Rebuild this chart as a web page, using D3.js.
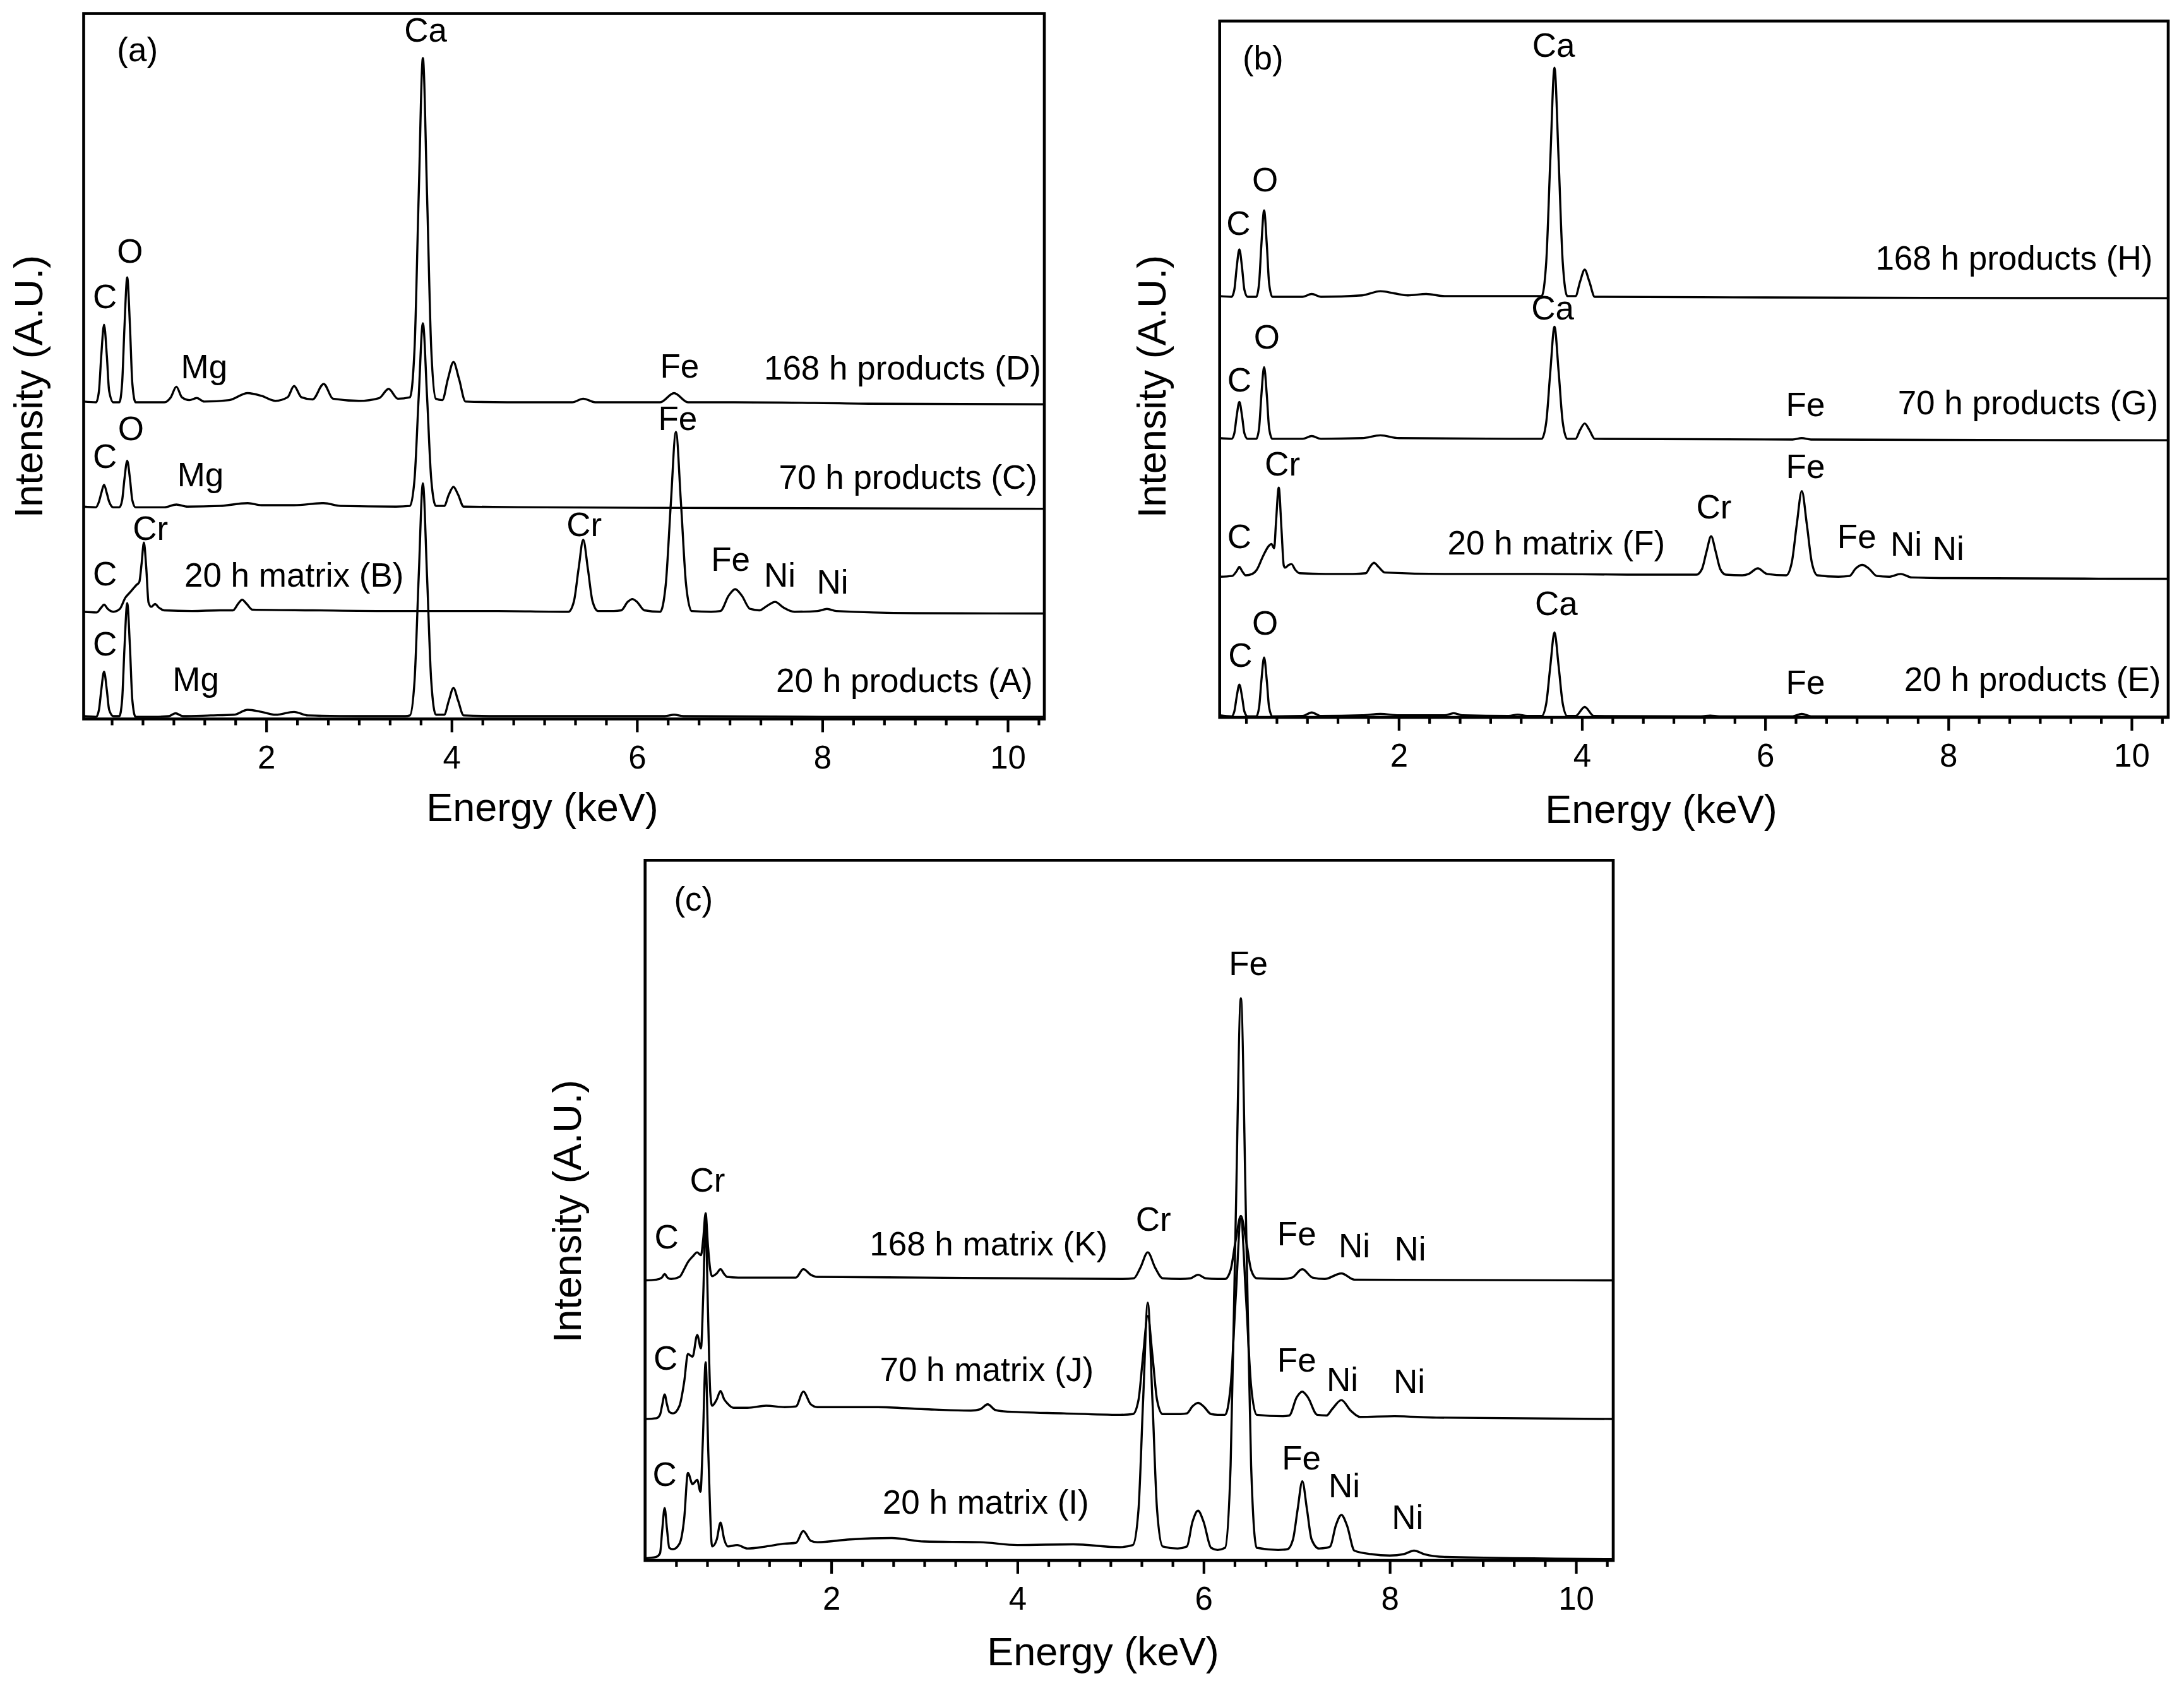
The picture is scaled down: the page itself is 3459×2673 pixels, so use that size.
<!DOCTYPE html>
<html><head><meta charset="utf-8">
<script src="https://cdn.jsdelivr.net/npm/d3@7/dist/d3.min.js"></script>
<style>html,body{margin:0;padding:0;background:#fff;}svg{display:block;}</style>
</head><body>
<script>
// ---------------- DATA (energy keV, intensity in A.U., stacked as drawn) ----------------
const majorTicks = [2, 4, 6, 8, 10];
const majorTickLabels = ["2", "4", "6", "8", "10"];

// Panel (a)
const specA_20hProducts = [[0.03,0.4],[0.165,0.3],[0.195,1.3],[0.22,4.1],[0.25,6.7],[0.28,4.1],[0.305,1.3],[0.35,0.4],[0.415,0.4],[0.445,2.7],[0.47,10.0],[0.50,16.4],[0.53,10.0],[0.555,2.7],[0.59,0.3],[0.8,0.3],[0.95,0.4],[1.02,0.8],[1.1,0.4],[1.4,0.5],[1.65,0.6],[1.8,1.3],[1.95,1.0],[2.1,0.6],[2.3,1.0],[2.45,0.5],[3.0,0.4],[3.5,0.4],[3.55,0.5],[3.60,5.4],[3.645,20.2],[3.69,33.4],[3.735,20.2],[3.78,5.4],[3.83,0.6],[3.92,0.6],[3.97,2.6],[4.02,4.4],[4.07,2.6],[4.13,0.5],[4.5,0.4],[5.4,0.4],[6.3,0.4],[6.4,0.6],[6.5,0.4],[8,0.3],[10.39,0.3]];
const specB_20hMatrix = [[0.03,15.2],[0.17,15.1],[0.22,15.8],[0.25,16.2],[0.29,15.6],[0.35,15.2],[0.42,15.6],[0.48,17.2],[0.52,17.8],[0.56,18.4],[0.60,19.0],[0.63,19.4],[0.655,22.0],[0.68,25.0],[0.705,21.5],[0.73,16.5],[0.76,15.9],[0.80,16.3],[0.84,15.8],[0.9,15.4],[1.2,15.3],[1.5,15.4],[1.64,15.4],[1.70,16.4],[1.74,16.9],[1.79,16.3],[1.85,15.5],[2.5,15.4],[3.3,15.3],[4.5,15.3],[5.2,15.2],[5.26,15.2],[5.32,16.7],[5.37,21.3],[5.42,25.4],[5.47,21.3],[5.52,16.7],[5.58,15.3],[5.75,15.3],[5.83,15.4],[5.9,16.6],[5.95,17.0],[6.0,16.6],[6.08,15.4],[6.25,15.2],[6.31,19.0],[6.365,30.5],[6.42,40.7],[6.475,30.5],[6.53,19.0],[6.59,15.3],[6.8,15.2],[6.9,15.3],[6.99,17.5],[7.06,18.4],[7.13,17.5],[7.22,15.6],[7.32,15.4],[7.40,16.0],[7.49,16.6],[7.58,15.8],[7.7,15.2],[7.95,15.3],[8.05,15.6],[8.15,15.3],[9,15.0],[10.39,14.95]];
const specC_70hProducts = [[0.03,30.1],[0.16,30.0],[0.195,30.8],[0.22,32.0],[0.25,33.2],[0.28,32.0],[0.305,30.8],[0.35,30.0],[0.415,30.0],[0.445,31.0],[0.47,34.0],[0.50,36.6],[0.53,34.0],[0.555,31.0],[0.59,30.0],[0.9,30.0],[1.03,30.4],[1.15,30.1],[1.5,30.2],[1.8,30.6],[1.95,30.3],[2.3,30.3],[2.62,30.6],[2.8,30.2],[3.4,30.1],[3.55,30.2],[3.60,34.0],[3.645,45.7],[3.69,56.1],[3.735,45.7],[3.78,34.0],[3.83,30.2],[3.92,30.2],[3.97,31.8],[4.02,32.9],[4.07,31.8],[4.13,30.1],[5,30.0],[7,29.9],[10.39,29.8]];
const specD_168hProducts = [[0.03,45.0],[0.165,44.9],[0.195,46.5],[0.22,51.5],[0.25,55.9],[0.28,51.5],[0.305,46.5],[0.35,44.9],[0.415,44.9],[0.445,47.6],[0.47,55.5],[0.50,62.6],[0.53,55.5],[0.555,47.6],[0.59,44.9],[0.9,44.9],[0.97,45.6],[1.03,47.1],[1.09,45.6],[1.17,45.2],[1.25,45.5],[1.33,45.0],[1.6,45.2],[1.8,46.2],[1.95,45.8],[2.1,45.1],[2.23,45.6],[2.3,47.2],[2.38,45.6],[2.5,45.3],[2.62,47.5],[2.72,45.4],[3.0,45.1],[3.22,45.5],[3.32,46.8],[3.42,45.4],[3.55,45.6],[3.60,52.5],[3.645,74.3],[3.69,93.7],[3.735,74.3],[3.78,52.5],[3.83,45.4],[3.9,45.2],[3.96,48.2],[4.02,50.6],[4.08,48.2],[4.15,45.0],[4.6,44.9],[5.3,44.9],[5.42,45.4],[5.55,44.9],[6.25,44.9],[6.4,46.2],[6.55,44.9],[7.05,44.9],[8.5,44.7],[10.39,44.6]];

// Panel (b)
const specE_20hProducts = [[0.045,0.3],[0.175,0.15],[0.205,0.85],[0.23,2.9],[0.26,4.7],[0.29,2.9],[0.315,0.85],[0.35,0.15],[0.445,0.15],[0.475,1.4],[0.50,5.2],[0.53,8.6],[0.56,5.2],[0.585,1.4],[0.62,0.15],[0.95,0.2],[1.05,0.7],[1.15,0.2],[1.6,0.3],[1.8,0.5],[2.0,0.3],[2.5,0.3],[2.6,0.6],[2.7,0.3],[3.2,0.2],[3.3,0.4],[3.4,0.2],[3.56,0.2],[3.61,2.0],[3.655,7.4],[3.70,12.2],[3.745,7.4],[3.79,2.0],[3.84,0.2],[3.93,0.2],[4.03,1.5],[4.13,0.2],[5.3,0.15],[5.4,0.25],[5.5,0.15],[6.3,0.15],[6.4,0.5],[6.5,0.15],[10.4,0.1]];
const specF_20hMatrix = [[0.045,20.2],[0.18,20.3],[0.23,21.0],[0.26,21.6],[0.29,21.0],[0.33,20.4],[0.40,20.6],[0.45,21.2],[0.52,23.2],[0.58,24.6],[0.61,24.9],[0.64,24.3],[0.66,28.0],[0.69,33.0],[0.72,27.0],[0.745,21.8],[0.76,21.5],[0.80,21.9],[0.83,22.0],[0.87,21.2],[0.92,20.7],[1.2,20.6],[1.5,20.6],[1.64,20.7],[1.69,21.7],[1.73,22.2],[1.78,21.6],[1.85,20.8],[2.5,20.6],[3.5,20.6],[4.5,20.5],[5.22,20.5],[5.25,20.5],[5.31,21.3],[5.36,23.8],[5.41,26.0],[5.46,23.8],[5.51,21.3],[5.57,20.5],[5.75,20.4],[5.82,20.6],[5.92,21.4],[6.02,20.6],[6.23,20.4],[6.29,22.2],[6.345,27.7],[6.40,32.5],[6.455,27.7],[6.51,22.2],[6.57,20.4],[6.8,20.2],[6.92,20.3],[6.99,21.4],[7.06,21.9],[7.13,21.4],[7.22,20.3],[7.35,20.2],[7.48,20.6],[7.6,20.1],[8,20.0],[10.4,19.9]];
const specG_70hProducts = [[0.045,40.1],[0.175,40.0],[0.205,40.8],[0.23,43.2],[0.26,45.3],[0.29,43.2],[0.315,40.8],[0.35,40.0],[0.445,40.0],[0.475,41.5],[0.50,46.2],[0.53,50.3],[0.56,46.2],[0.585,41.5],[0.62,40.0],[0.95,40.0],[1.05,40.4],[1.15,40.0],[1.6,40.1],[1.8,40.5],[2.0,40.1],[3.4,40.0],[3.56,40.0],[3.61,42.4],[3.655,49.7],[3.70,56.1],[3.745,49.7],[3.79,42.4],[3.84,40.0],[3.93,40.0],[3.98,41.3],[4.03,42.2],[4.08,41.3],[4.14,40.0],[6.3,39.9],[6.4,40.1],[6.5,39.9],[10.4,39.8]];
const specH_168hProducts = [[0.045,60.5],[0.175,60.4],[0.205,61.4],[0.23,64.5],[0.26,67.2],[0.29,64.5],[0.315,61.4],[0.35,60.4],[0.445,60.4],[0.475,62.3],[0.50,67.8],[0.53,72.8],[0.56,67.8],[0.585,62.3],[0.62,60.4],[0.95,60.4],[1.05,60.8],[1.15,60.4],[1.6,60.6],[1.8,61.2],[1.95,60.9],[2.1,60.6],[2.3,60.8],[2.5,60.5],[3.4,60.5],[3.56,60.5],[3.61,65.4],[3.655,80.2],[3.70,93.3],[3.745,80.2],[3.79,65.4],[3.84,60.5],[3.93,60.5],[3.98,62.6],[4.03,64.3],[4.08,62.6],[4.14,60.4],[6,60.3],[10.4,60.2]];

// Panel (c)
const specI_20hMatrix = [[0.0,0.3],[0.12,0.5],[0.16,1.0],[0.185,4.5],[0.21,7.5],[0.235,4.5],[0.26,1.8],[0.30,1.6],[0.37,2.4],[0.42,6.0],[0.46,12.5],[0.51,10.9],[0.56,11.5],[0.595,9.8],[0.62,17.0],[0.65,28.3],[0.68,15.0],[0.72,2.0],[0.77,3.0],[0.81,5.4],[0.85,3.0],[0.89,2.0],[0.99,2.2],[1.10,1.7],[1.3,2.0],[1.5,2.4],[1.62,2.5],[1.70,4.2],[1.78,2.8],[1.85,2.6],[2.2,3.0],[2.65,3.2],[3.0,2.7],[3.6,2.6],[4.0,2.2],[4.6,2.3],[5.1,1.9],[5.24,2.2],[5.30,7.2],[5.35,22.9],[5.40,36.8],[5.45,22.9],[5.50,7.2],[5.56,2.0],[5.72,1.7],[5.82,2.0],[5.88,5.5],[5.94,7.1],[6.00,5.5],[6.08,1.8],[6.15,1.5],[6.23,1.8],[6.29,13.6],[6.345,48.9],[6.40,80.3],[6.455,48.9],[6.51,13.6],[6.57,1.8],[6.8,1.5],[6.90,1.6],[6.96,3.0],[7.01,7.3],[7.06,11.3],[7.11,7.3],[7.16,3.0],[7.24,1.7],[7.32,1.8],[7.36,2.0],[7.42,5.0],[7.48,6.5],[7.54,5.0],[7.62,1.4],[7.8,0.9],[8.0,0.7],[8.15,0.9],[8.26,1.4],[8.37,0.9],[8.6,0.5],[10.4,0.2]];
const specJ_70hMatrix = [[0.0,20.2],[0.12,20.3],[0.16,20.8],[0.185,22.3],[0.21,23.7],[0.235,22.3],[0.26,21.2],[0.30,21.0],[0.37,22.1],[0.42,25.5],[0.46,29.5],[0.51,29.1],[0.56,32.2],[0.60,30.3],[0.625,38.0],[0.65,48.8],[0.675,36.0],[0.70,24.0],[0.72,22.1],[0.77,23.0],[0.81,24.2],[0.85,23.0],[0.88,22.5],[0.95,21.8],[1.1,21.8],[1.3,22.1],[1.5,21.9],[1.62,22.0],[1.70,24.1],[1.78,22.3],[1.85,21.9],[2.5,21.9],[3.0,21.6],[3.5,21.4],[3.6,21.6],[3.68,22.3],[3.76,21.5],[3.85,21.3],[4.5,21.0],[5.1,20.8],[5.24,20.9],[5.30,22.9],[5.35,29.3],[5.40,34.9],[5.45,29.3],[5.50,22.9],[5.56,20.9],[5.75,20.9],[5.82,21.0],[5.88,22.0],[5.94,22.5],[6.00,22.0],[6.08,20.9],[6.15,20.8],[6.23,20.8],[6.29,24.9],[6.345,37.6],[6.40,48.8],[6.455,37.6],[6.51,24.9],[6.57,20.8],[6.85,20.6],[6.92,20.7],[7.00,23.3],[7.06,24.1],[7.12,23.3],[7.22,20.8],[7.32,20.7],[7.38,21.6],[7.48,22.9],[7.58,21.4],[7.68,20.5],[8.05,20.6],[8.5,20.4],[10.4,20.2]];
const specK_168hMatrix = [[0.0,40.0],[0.12,40.1],[0.18,40.4],[0.21,40.9],[0.24,40.4],[0.28,40.2],[0.37,40.5],[0.42,41.6],[0.46,42.6],[0.51,43.4],[0.56,44.0],[0.60,43.6],[0.625,46.0],[0.65,49.6],[0.675,45.0],[0.70,41.5],[0.72,40.6],[0.77,41.0],[0.81,41.6],[0.85,40.9],[0.88,40.5],[1.0,40.4],[1.62,40.4],[1.70,41.6],[1.78,40.8],[1.85,40.5],[3.0,40.4],[5.1,40.2],[5.25,40.3],[5.32,41.8],[5.40,44.0],[5.48,41.8],[5.56,40.3],[5.75,40.2],[5.86,40.3],[5.94,40.8],[6.02,40.3],[6.15,40.2],[6.23,40.2],[6.29,41.5],[6.345,45.8],[6.40,49.2],[6.455,45.8],[6.51,41.5],[6.57,40.3],[6.85,40.2],[6.95,40.4],[7.06,41.6],[7.17,40.4],[7.3,40.2],[7.48,41.0],[7.62,40.1],[10.4,40.0]];

// Annotation texts: [text, energy, intensity, anchor]
const labelsA = [["(a)",0.39,93.2,"start"],["Ca",3.72,96.0,"middle"],["O",0.53,64.7,"middle"],["C",0.26,58.2,"middle"],["Mg",1.33,48.3,"middle"],["Fe",6.46,48.4,"middle"],["168 h products (D)",10.36,48.1,"end"],["C",0.26,35.6,"middle"],["O",0.54,39.5,"middle"],["Mg",1.29,33.0,"middle"],["Fe",6.44,41.0,"middle"],["70 h products (C)",10.32,32.6,"end"],["Cr",0.75,25.4,"middle"],["C",0.26,18.9,"middle"],["20 h matrix (B)",2.30,18.8,"middle"],["Cr",5.43,25.9,"middle"],["Fe",7.01,21.0,"middle"],["Ni",7.54,18.8,"middle"],["Ni",8.11,17.8,"middle"],["C",0.26,9.0,"middle"],["Mg",1.24,4.0,"middle"],["20 h products (A)",10.27,3.8,"end"]];
const labelsB = [["(b)",0.295,93.0,"start"],["Ca",3.69,94.9,"middle"],["O",0.54,75.5,"middle"],["C",0.25,69.3,"middle"],["168 h products (H)",10.23,64.3,"end"],["Ca",3.68,57.1,"middle"],["O",0.56,53.0,"middle"],["C",0.26,46.8,"middle"],["Fe",6.44,43.3,"middle"],["70 h products (G)",10.29,43.5,"end"],["Cr",0.73,34.7,"middle"],["Fe",6.44,34.4,"middle"],["C",0.26,24.3,"middle"],["Cr",5.44,28.6,"middle"],["20 h matrix (F)",3.72,23.4,"middle"],["Fe",7.00,24.3,"middle"],["Ni",7.54,23.2,"middle"],["Ni",8.00,22.6,"middle"],["Ca",3.72,14.7,"middle"],["O",0.54,11.9,"middle"],["C",0.27,7.3,"middle"],["Fe",6.44,3.4,"middle"],["20 h products (E)",10.32,3.8,"end"]];
const labelsC = [["(c)",0.31,92.8,"start"],["Fe",6.48,83.6,"middle"],["Cr",0.67,52.7,"middle"],["C",0.23,44.6,"middle"],["168 h matrix (K)",3.69,43.6,"middle"],["Cr",5.46,47.1,"middle"],["Fe",7.00,45.0,"middle"],["Ni",7.62,43.3,"middle"],["Ni",8.22,42.8,"middle"],["C",0.22,27.2,"middle"],["70 h matrix (J)",3.67,25.6,"middle"],["Fe",7.00,27.0,"middle"],["Ni",7.49,24.2,"middle"],["Ni",8.21,23.9,"middle"],["C",0.21,10.6,"middle"],["20 h matrix (I)",3.66,6.7,"middle"],["Fe",7.05,13.0,"middle"],["Ni",7.51,9.0,"middle"],["Ni",8.19,4.5,"middle"]];

// ---------------- LAYOUT ----------------
const W = 3459, H = 2673;
const FONT = "'Liberation Sans', Arial, Helvetica, sans-serif";
const panels = [
  {id:"a", left:132.5, right:1654, top:21.5, bottom:1138.5, domain:[0.03,10.395],
   series:[specA_20hProducts,specB_20hMatrix,specC_70hProducts,specD_168hProducts], labels:labelsA,
   xTitle:{x:859, y:1300}, yTitle:{x:67, y:612}},
  {id:"b", left:1931.7, right:3434, top:33.3, bottom:1136, domain:[0.045,10.40],
   series:[specE_20hProducts,specF_20hMatrix,specG_70hProducts,specH_168hProducts], labels:labelsB,
   xTitle:{x:2631, y:1303}, yTitle:{x:1846, y:612}},
  {id:"c", left:1021.7, right:2555, top:1362.3, bottom:2471, domain:[0.0,10.40],
   series:[specI_20hMatrix,specJ_70hMatrix,specK_168hMatrix], labels:labelsC,
   xTitle:{x:1747, y:2637}, yTitle:{x:920, y:1918}}
];

const svg = d3.select("body").append("svg").attr("width", W).attr("height", H)
  .attr("viewBox", `0 0 ${W} ${H}`).style("background", "#fff");

panels.forEach(p => {
  const x = d3.scaleLinear().domain(p.domain).range([p.left, p.right]);
  const y = d3.scaleLinear().domain([0, 100]).range([p.bottom, p.top]);
  const g = svg.append("g");

  const clipId = "clip-" + p.id;
  svg.append("clipPath").attr("id", clipId).append("rect")
    .attr("x", p.left).attr("y", p.top).attr("width", p.right - p.left).attr("height", p.bottom - p.top);

  const line = d3.line().x(d => x(d[0])).y(d => y(d[1])).curve(d3.curveMonotoneX);
  g.append("g").attr("clip-path", `url(#${clipId})`)
    .selectAll("path").data(p.series).join("path")
    .attr("d", line).attr("fill", "none").attr("stroke", "#000")
    .attr("stroke-width", 3.4).attr("stroke-linejoin", "round");

  // minor ticks every 1/3 keV
  const minor = d3.range(1, 32).map(k => k / 3).filter(v => v <= p.domain[1] && Math.abs(v / 2 - Math.round(v / 2)) > 1e-6);
  const axMinor = d3.axisBottom(x).tickValues(minor).tickSize(10).tickFormat("");
  const axMajor = d3.axisBottom(x).tickValues(majorTicks).tickSize(21).tickPadding(21)
    .tickFormat((d, i) => majorTickLabels[i]);
  [axMinor, axMajor].forEach(ax => {
    const ag = g.append("g").attr("transform", `translate(0,${p.bottom})`).call(ax);
    ag.select(".domain").remove();
    ag.selectAll("line").attr("stroke", "#000").attr("stroke-width", 4.2);
    ag.selectAll("text").attr("font-family", FONT).attr("font-size", 51).attr("fill", "#000");
  });

  // frame
  g.append("rect").attr("x", p.left).attr("y", p.top)
    .attr("width", p.right - p.left).attr("height", p.bottom - p.top)
    .attr("fill", "none").attr("stroke", "#000").attr("stroke-width", 4.6);

  // annotations
  g.selectAll("text.ann").data(p.labels).join("text").attr("class", "ann")
    .attr("x", d => x(d[1])).attr("y", d => y(d[2]))
    .attr("text-anchor", d => d[3])
    .attr("font-family", FONT).attr("font-size", 53).attr("fill", "#000")
    .text(d => d[0]);

  // axis titles
  g.append("text").attr("x", p.xTitle.x).attr("y", p.xTitle.y)
    .attr("text-anchor", "middle").attr("font-family", FONT).attr("font-size", 63)
    .text("Energy (keV)");
  g.append("text").attr("transform", `translate(${p.yTitle.x},${p.yTitle.y}) rotate(-90)`)
    .attr("text-anchor", "middle").attr("font-family", FONT).attr("font-size", 63)
    .text("Intensity (A.U.)");
});
</script>
</body></html>
